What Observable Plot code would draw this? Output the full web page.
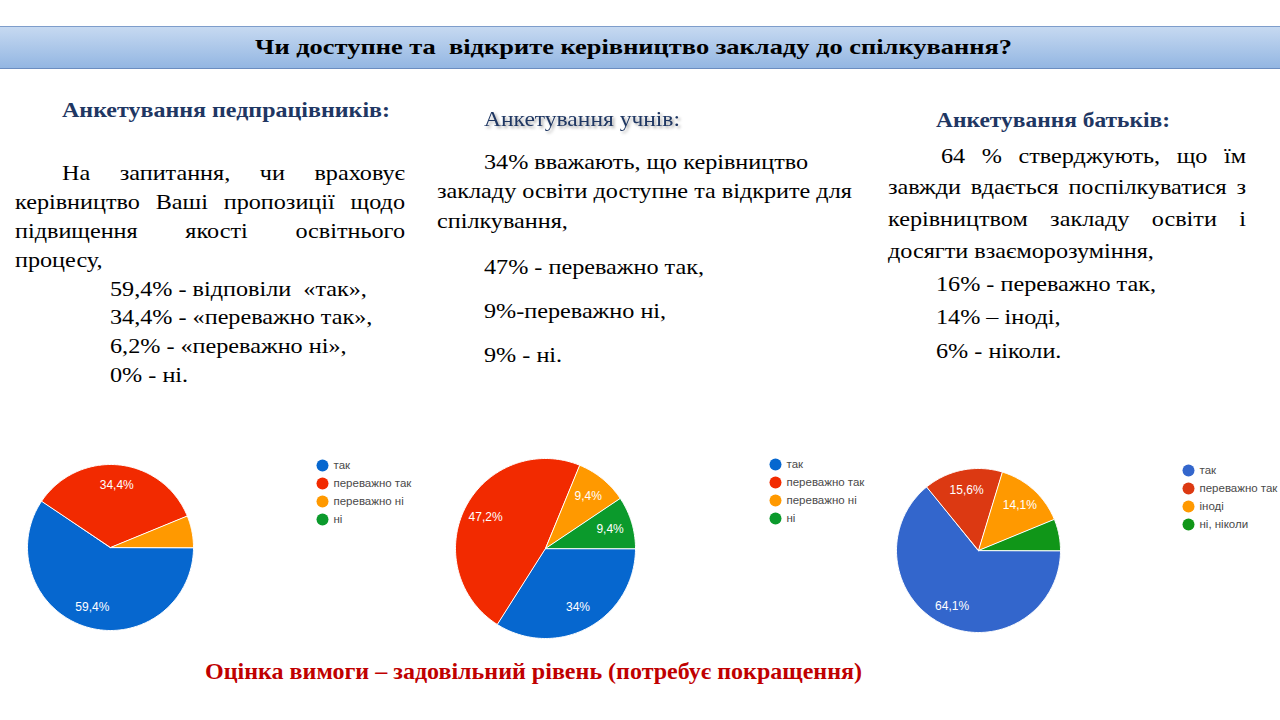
<!DOCTYPE html>
<html><head><meta charset="utf-8">
<script src="https://cdn.jsdelivr.net/npm/d3@7"></script>
<script src="https://cdn.jsdelivr.net/npm/@observablehq/plot@0.6"></script>
<style>
html,body{margin:0;padding:0;background:#fff;}
#page{position:relative;width:1280px;height:720px;overflow:hidden;background:#fff;}
#bar{position:absolute;left:0;top:26px;width:1280px;height:41px;background:linear-gradient(#c6d9f1,#93b6e2);border-top:1px solid #7e9dcb;border-bottom:1px solid #6b8dc0;}
.plot{position:absolute;}
#txt{position:absolute;left:0;top:0;}
#txt text{font-family:'Liberation Serif','Times New Roman',serif;}
</style></head><body><div id="page"><div id="bar"></div></div>
<script>
// ---- data ----
const staffCategories = ["так", "переважно так", "переважно ні", "ні"];
const staffValues = [59.4, 34.4, 6.2, 0];
const studentCategories = ["так", "переважно так", "переважно ні", "ні"];
const studentValues = [34, 47.2, 9.4, 9.4];
const parentCategories = ["так", "переважно так", "іноді", "ні, ніколи"];
const parentValues = [64.1, 15.6, 14.1, 6.2];
const colorsA = ["#0667cf", "#f22a00", "#ff9900", "#0b9a2c"];
const colorsB = ["#3366cc", "#dc3912", "#ff9900", "#109618"];

const page = document.getElementById("page");

function pie(cats, vals, colors, cx, cy, r) {
  const total = d3.sum(vals);
  const pts = [], labels = [];
  let acc = 0;
  cats.forEach((c, i) => {
    const v = vals[i];
    const a0 = acc / total * 2 * Math.PI, a1 = (acc + v) / total * 2 * Math.PI;
    acc += v;
    if (v <= 0) return;
    const n = Math.max(2, Math.ceil((a1 - a0) / (Math.PI / 180)));
    pts.push({cat: c, x: 0, y: 0});
    for (let k = 0; k <= n; k++) {
      const a = a0 + (a1 - a0) * k / n;
      pts.push({cat: c, x: Math.cos(a), y: -Math.sin(a)});
    }
    const am = (a0 + a1) / 2;
    if (v >= 9) labels.push({cat: c, x: 0.75 * Math.cos(am), y: -0.75 * Math.sin(am), text: String(v).replace(".", ",") + "%"});
  });
  const pad = 2, size = 2 * r + 2 * pad;
  const chart = Plot.plot({
    width: size, height: size, margin: pad,
    x: {domain: [-1, 1], axis: null},
    y: {domain: [-1, 1], axis: null},
    color: {domain: cats, range: colors},
    style: {background: "transparent", fontFamily: "Arial, 'Liberation Sans', sans-serif"},
    marks: [
      Plot.line(pts, {x: "x", y: "y", z: "cat", fill: "cat", stroke: "white", strokeWidth: 1, curve: "linear-closed"}),
      Plot.text(labels, {x: "x", y: "y", text: "text", fill: "white", fontSize: 12})
    ]
  });
  chart.classList.add("plot");
  chart.style.left = (cx - r - pad) + "px";
  chart.style.top = (cy - r - pad) + "px";
  page.appendChild(chart);
}

function legend(cats, colors, left, top, gap) {
  const h = gap * (cats.length - 1) + 14;
  const chart = Plot.plot({
    width: 170, height: h, margin: 0,
    x: {domain: [0, 1], range: [6, 160], axis: null},
    y: {type: "point", domain: cats, range: [7, 7 + gap * (cats.length - 1)], padding: 0, axis: null},
    color: {domain: cats, range: colors},
    style: {background: "transparent", fontFamily: "Arial, 'Liberation Sans', sans-serif"},
    marks: [
      Plot.dot(cats, {x: () => 0, y: d => d, fill: d => d, r: 6}),
      Plot.text(cats, {x: () => 0, y: d => d, text: d => d, dx: 11, textAnchor: "start", fill: "#4a4a4a", fontSize: 11.5})
    ]
  });
  chart.classList.add("plot");
  chart.style.left = left + "px";
  chart.style.top = top + "px";
  page.appendChild(chart);
}

pie(staffCategories, staffValues, colorsA, 110, 547, 83);
pie(studentCategories, studentValues, colorsA, 545, 548, 90);
pie(parentCategories, parentValues, colorsB, 978, 550, 82);
legend(staffCategories, colorsA, 316, 457, 18.7);
legend(studentCategories, colorsA, 769, 456, 18.7);
legend(parentCategories, colorsB, 1182, 462, 18.7);

// ---- text ----
const SX = 1.1;
const svg = d3.select(page).append("svg").attr("id", "txt").attr("width", 1280).attr("height", 720);

function fit(str, x, y, w, o) {
  const t = svg.append("text").attr("x", x).attr("y", y).attr("textLength", w).attr("lengthAdjust", "spacingAndGlyphs")
    .attr("font-size", o.size).attr("font-weight", o.bold ? "bold" : "normal").attr("fill", o.fill || "#000")
    .style("white-space", "pre").text(str);
  if (o.shadow) t.style("filter", "drop-shadow(2px 2px 1.5px rgba(0,0,0,0.35))");
  return t;
}
function line(str, x, y, o = {}) {
  return svg.append("text").attr("transform", `translate(${x},${y}) scale(${SX},1)`)
    .attr("font-size", o.size || 22).attr("fill", o.fill || "#000").style("white-space", "pre").text(str);
}
function just(str, x, y, w, o = {}) {
  const words = str.split(/\s+/);
  const g = svg.append("text").attr("transform", `translate(${x},${y}) scale(${SX},1)`)
    .attr("font-size", o.size || 22).attr("fill", o.fill || "#000");
  const spans = words.map(wd => g.append("tspan").text(wd));
  const widths = spans.map(s => s.node().getComputedTextLength());
  const target = w / SX;
  const gap = (target - d3.sum(widths)) / (words.length - 1);
  let cx = 0;
  spans.forEach((s, i) => { s.attr("x", cx); cx += widths[i] + gap; });
}

fit("Чи доступне та  відкрите керівництво закладу до спілкування?", 255, 54, 757, {size: 21, bold: true});

// column 1
fit("Анкетування педпрацівників:", 62, 117, 328, {size: 22, bold: true, fill: "#1f3763"});
just("На запитання, чи враховує", 62, 180, 343);
just("керівництво Ваші пропозиції щодо", 15, 209, 390);
just("підвищення якості освітнього", 15, 238, 390);
line("процесу,", 15, 267);
line("59,4% - відповіли  «так»,", 110, 296);
line("34,4% - «переважно так»,", 110, 324);
line("6,2% - «переважно ні»,", 110, 353);
line("0% - ні.", 110, 382);

// column 2
fit("Анкетування учнів:", 484, 126, 196, {size: 22, fill: "#1f3763", shadow: true});
line("34% вважають, що керівництво", 484, 169);
line("закладу освіти доступне та відкрите для", 437, 198);
line("спілкування,", 437, 228);
line("47% - переважно так,", 484, 274);
line("9%-переважно ні,", 484, 318);
line("9% - ні.", 484, 362);

// column 3
fit("Анкетування батьків:", 936, 127, 234, {size: 22, bold: true, fill: "#1f3763"});
just("64 % стверджують, що їм", 941, 163, 305);
just("завжди вдається поспілкуватися з", 888, 194, 358);
just("керівництвом закладу освіти і", 888, 226, 358);
line("досягти взаєморозуміння,", 888, 258);
line("16% - переважно так,", 936, 291);
line("14% – іноді,", 936, 324);
line("6% - ніколи.", 936, 358);

fit("Оцінка вимоги – задовільний рівень (потребує покращення)", 205, 679, 657, {size: 23, bold: true, fill: "#c00000"});
</script>
</body></html>
